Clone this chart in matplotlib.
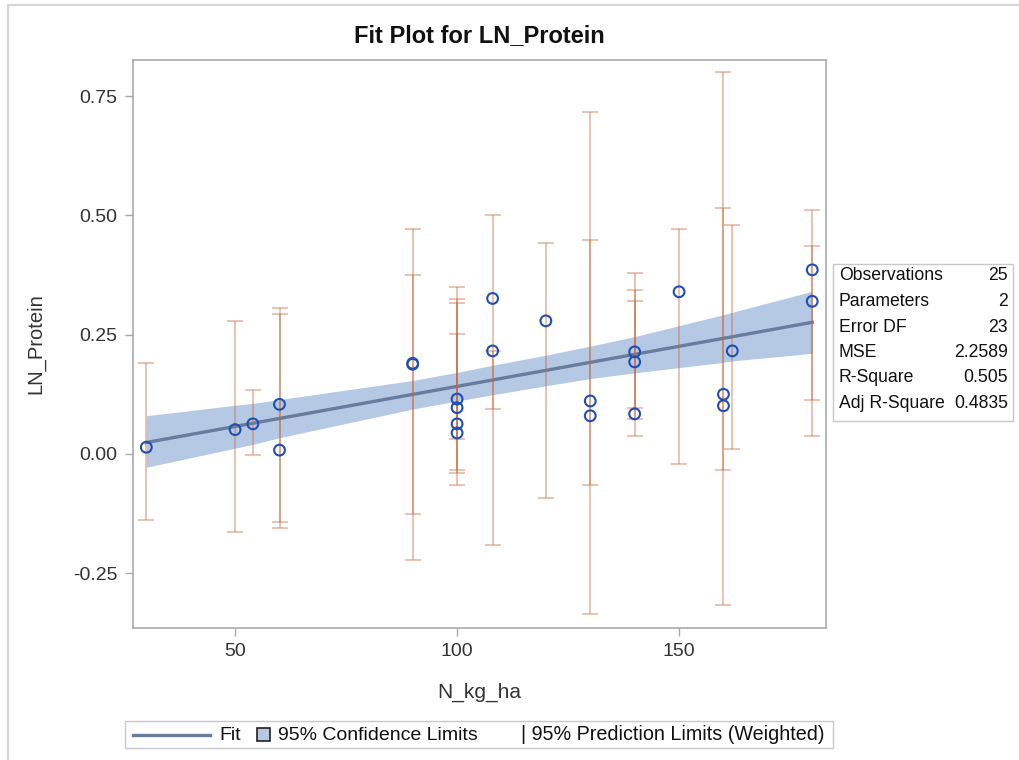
import matplotlib
matplotlib.use("Agg")
import matplotlib.pyplot as plt
from matplotlib.lines import Line2D
from matplotlib.patches import Rectangle

plt.rcParams['font.family'] = ['Liberation Sans', 'DejaVu Sans']

# observations (N_kg_ha, LN_Protein)
n_kg_ha = [30, 50, 54, 60, 60, 90, 90, 100, 100, 100, 100, 108, 108,
           120, 130, 130, 140, 140, 140, 150, 160, 160, 162, 180, 180]
ln_protein = [0.014, 0.051, 0.063, 0.104, 0.008, 0.188, 0.190, 0.115, 0.097,
              0.063, 0.044, 0.326, 0.216, 0.279, 0.111, 0.080, 0.214, 0.193,
              0.084, 0.340, 0.125, 0.101, 0.216, 0.386, 0.320]

# weighted 95% prediction limits, one per observation
pred_lo = [-0.139, -0.163, -0.003, -0.142, -0.155, -0.125, -0.222, 0.031, -0.033,
           -0.039, -0.066, -0.192, 0.094, -0.093, -0.335, -0.066, 0.037, 0.074,
           0.097, -0.022, -0.317, -0.033, 0.011, 0.037, 0.114]
pred_hi = [0.190, 0.279, 0.133, 0.293, 0.306, 0.376, 0.472, 0.252, 0.317,
           0.324, 0.349, 0.502, 0.216, 0.442, 0.717, 0.448, 0.379, 0.343,
           0.320, 0.472, 0.801, 0.515, 0.479, 0.512, 0.436]

# fit line and 95% confidence band
fit_x = [30, 180]
fit_y = [0.024, 0.276]
band_x = [30, 50, 54, 60, 90, 100, 108, 120, 130, 140, 150, 160, 162, 180]
band_lo = [-0.028, 0.012, 0.020, 0.034, 0.094, 0.111, 0.124, 0.143, 0.158,
           0.170, 0.181, 0.192, 0.195, 0.211]
band_hi = [0.080, 0.102, 0.106, 0.114, 0.154, 0.171, 0.186, 0.207, 0.226,
           0.246, 0.269, 0.292, 0.297, 0.341]

stat_names = ['Observations', 'Parameters', 'Error DF', 'MSE', 'R-Square', 'Adj R-Square']
stat_values = ['25', '2', '23', '2.2589', '0.505', '0.4835']

W, H = 1020, 760
fig = plt.figure(figsize=(W / 100, H / 100), dpi=100)


def fx(px):
    return px / W


def fy(py):
    return 1 - py / H


frame_col = '#a7abb0'
text_col = '#333333'

ax = fig.add_axes([fx(133), fy(628), fx(826) - fx(133), fy(60) - fy(628)])
ax.fill_between(band_x, band_lo, band_hi, color='#b5c9e5', lw=0, zorder=1)
ax.plot(fit_x, fit_y, color='#687d9e', lw=2.4, zorder=2)
for x, lo, hi in zip(n_kg_ha, pred_lo, pred_hi):
    ax.errorbar([x], [(lo + hi) / 2], yerr=[[(hi - lo) / 2], [(hi - lo) / 2]],
                fmt='none', ecolor='#c8643c', alpha=0.5, elinewidth=1.1,
                capsize=6, capthick=1.1, zorder=3)
ax.scatter(n_kg_ha, ln_protein, s=60, facecolors='none', edgecolors='#1f4fb4',
           linewidths=1.5, zorder=4)

ax.set_xlim(27.0, 183.1)
ax.set_ylim(-0.365, 0.826)
ax.set_xticks([50, 100, 150])
ax.set_yticks([-0.25, 0.0, 0.25, 0.5, 0.75])
ax.set_yticklabels(['-0.25', '0.00', '0.25', '0.50', '0.75'])
for s in ax.spines.values():
    s.set_color(frame_col)
    s.set_linewidth(1.2)
ax.tick_params(length=6, width=1, color=frame_col, labelcolor=text_col,
               labelsize=14, pad=5)
ax.set_xlabel('N_kg_ha', fontsize=15, color=text_col, labelpad=16)
ax.set_ylabel('LN_Protein', fontsize=14.5, color=text_col, labelpad=20)
ax.set_title('Fit Plot for LN_Protein', fontsize=17, fontweight='bold',
             color='#111111', pad=13)

# outer frame
fig.add_artist(Line2D([fx(8), fx(8)], [fy(5), 0], transform=fig.transFigure,
                      color='#d5d5d5', lw=1.5))
fig.add_artist(Line2D([fx(8), 1], [fy(5), fy(5)], transform=fig.transFigure,
                      color='#d5d5d5', lw=1.5))

# statistics inset
fig.add_artist(Rectangle((fx(833), fy(421)), fx(1013) - fx(833), fy(264) - fy(421),
                         transform=fig.transFigure, fill=False,
                         edgecolor='#c8c8c8', lw=1))
for i, (name, val) in enumerate(zip(stat_names, stat_values)):
    yy = fy(276 + i * 25.5)
    fig.text(fx(839), yy, name, fontsize=12.7, color='#111111', va='center')
    fig.text(fx(1008), yy, val, fontsize=12.7, color='#111111', va='center', ha='right')

# legend
fig.add_artist(Rectangle((fx(125), fy(748)), fx(833) - fx(125), fy(721) - fy(748),
                         transform=fig.transFigure, fill=False,
                         edgecolor='#c8c8c8', lw=1))
ly = fy(735)
fig.add_artist(Line2D([fx(133), fx(210)], [ly, ly], transform=fig.transFigure,
                      color='#687d9e', lw=2.4))
fig.text(fx(219), ly, 'Fit', fontsize=14, color='#111111', va='center')
fig.add_artist(Rectangle((fx(257), fy(741)), fx(270) - fx(257), fy(728) - fy(741),
                         transform=fig.transFigure, facecolor='#b5c9e5',
                         edgecolor='#222222', lw=1.2))
fig.text(fx(278), ly, '95% Confidence Limits', fontsize=14, color='#111111', va='center')
fig.text(fx(521), ly, '| 95% Prediction Limits (Weighted)', fontsize=14.2,
         color='#111111', va='center')

fig.savefig('out.png', dpi=100)
